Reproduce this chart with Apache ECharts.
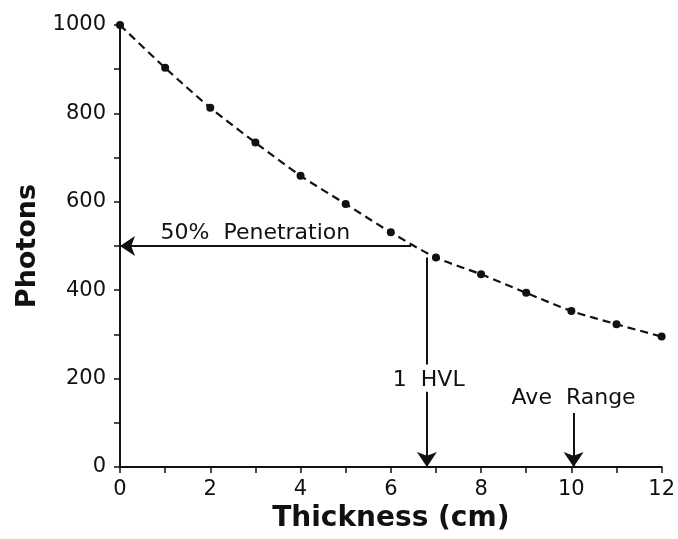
<!DOCTYPE html>
<html>
<head>
<meta charset="utf-8">
<script src="https://cdn.jsdelivr.net/npm/echarts@6/dist/echarts.min.js"></script>
<style>
  html, body { margin: 0; padding: 0; background: #ffffff; }
  #chart { width: 678px; height: 539px; }
</style>
</head>
<body>
<div id="chart"></div>
<script>
// Photon transmission through an absorber of increasing thickness
const thickness = [0, 1, 2, 3, 4, 5, 6, 7, 8, 9, 10, 11, 12];
const photons = [1000, 903, 813, 734, 659, 595, 531, 474, 436, 394, 353, 323, 295];

// Tick labels shown on each axis (ticks fall on every step, labels on every other)
const xTickLabels = ['0', '2', '4', '6', '8', '10', '12'];
const yTickLabels = ['0', '200', '400', '600', '800', '1000'];

// Arrows: [from, to] in data units (arrowhead at "to")
const penetrationArrow = [[6.45, 500], [0, 500]];
const hvlLineTop = [[6.8, 474], [6.8, 232]];
const hvlArrow = [[6.8, 170], [6.8, 0]];
const rangeArrow = [[10.05, 122], [10.05, 0]];

// Annotation texts and their anchor points in data units
const noteTexts = ['50%  Penetration', '1  HVL', 'Ave  Range'];
const noteX = [3.0, 6.84, 10.05];
const noteY = [529, 197, 156];

const ink = '#111111';
const font = 'DejaVu Sans';

const chart = echarts.init(document.getElementById('chart'));

chart.setOption({
  backgroundColor: '#ffffff',
  animation: false,
  grid: { left: 120, right: 15, top: 25, bottom: 72, containLabel: false },
  xAxis: {
    type: 'value',
    min: 0, max: 12, interval: 1,
    name: 'Thickness (cm)',
    nameLocation: 'middle',
    nameGap: 35,
    nameTextStyle: { fontFamily: font, fontWeight: 'bold', fontSize: 28, color: ink, lineHeight: 28 },
    axisLine: { show: true, onZero: false, lineStyle: { color: ink, width: 2 } },
    axisTick: { show: true, inside: false, length: 6, lineStyle: { color: ink, width: 1.5 } },
    axisLabel: {
      margin: 12,
      fontFamily: font, fontSize: 21, color: ink,
      formatter: v => (xTickLabels.includes(String(v)) ? String(v) : '')
    },
    splitLine: { show: false }
  },
  yAxis: {
    type: 'value',
    min: 0, max: 1000, interval: 100,
    name: 'Photons',
    nameLocation: 'middle',
    nameGap: 75,
    nameRotate: 90,
    nameTextStyle: { fontFamily: font, fontWeight: 'bold', fontSize: 27, color: ink },
    axisLine: { show: true, onZero: false, lineStyle: { color: ink, width: 2 } },
    axisTick: { show: true, inside: false, length: 6, lineStyle: { color: ink, width: 1.5 } },
    axisLabel: {
      margin: 14,
      fontFamily: font, fontSize: 21, color: ink,
      formatter: v => (yTickLabels.includes(String(v)) ? String(v) : '')
    },
    splitLine: { show: false }
  },
  series: [
    {
      type: 'line',
      data: thickness.map((x, i) => [x, photons[i]]),
      smooth: 0.3,
      symbol: 'circle',
      symbolSize: 8,
      itemStyle: { color: ink },
      lineStyle: { color: ink, width: 2.2, type: [8, 5] },
      z: 3
    },
    {
      type: 'lines',
      coordinateSystem: 'cartesian2d',
      symbol: ['none', 'arrow'],
      symbolSize: [9, 15],
      lineStyle: { color: ink, width: 2, opacity: 1, curveness: 0 },
      data: [
        { coords: penetrationArrow },
        { coords: hvlArrow },
        { coords: rangeArrow }
      ],
      z: 4
    },
    {
      type: 'lines',
      coordinateSystem: 'cartesian2d',
      symbol: ['none', 'none'],
      lineStyle: { color: ink, width: 2, opacity: 1 },
      data: [{ coords: hvlLineTop }],
      z: 4
    },
    {
      type: 'scatter',
      symbolSize: 0,
      itemStyle: { opacity: 1, color: ink },
      data: noteTexts.map((t, i) => ({ name: t, value: [noteX[i], noteY[i]] })),
      label: {
        show: true,
        position: 'inside',
        formatter: p => p.name,
        fontFamily: font, fontSize: 22, color: ink, opacity: 1
      },
      silent: true,
      z: 5
    }
  ]
});
</script>
</body>
</html>
